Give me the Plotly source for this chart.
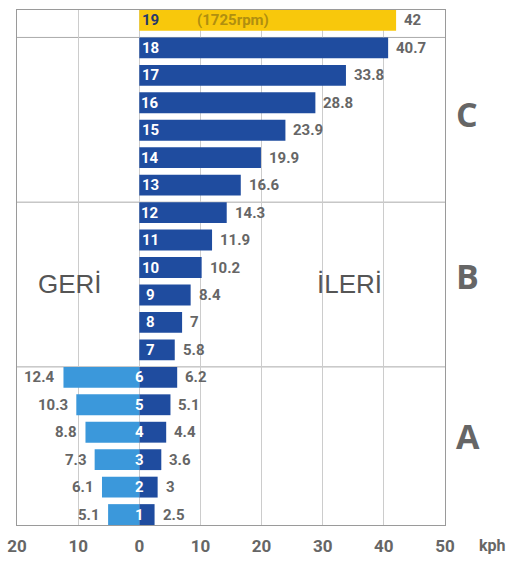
import plotly.graph_objects as go

gears = list(range(1, 20))
forward = [2.5, 3, 3.6, 4.4, 5.1, 6.2, 5.8, 7, 8.4, 10.2, 11.9, 14.3, 16.6, 19.9, 23.9, 28.8, 33.8, 40.7, 42]
reverse_gears = [1, 2, 3, 4, 5, 6]
reverse = [5.1, 6.1, 7.3, 8.8, 10.3, 12.4]
group_labels = ["A", "B", "C"]
group_centers = [3.85, 9.7, 15.6]
group_tops = [6, 12, 18]
tick_vals = [-20, -10, 0, 10, 20, 30, 40, 50]
tick_text = ["20", "10", "0", "10", "20", "30", "40", "50"]

DARK = "#1f4c9f"
LIGHT = "#3b98db"
YELLOW = "#f8c80c"
GRAY = "#666666"
BW = 0.76
FONT = "Roboto"

fwd_colors = [YELLOW if g == 19 else DARK for g in gears]

fig = go.Figure()
fig.add_trace(go.Bar(y=gears, x=forward, orientation="h", width=BW,
                     marker=dict(color=fwd_colors, line=dict(width=0)), hoverinfo="skip"))
fig.add_trace(go.Bar(y=reverse_gears, x=[-v for v in reverse], orientation="h", width=BW,
                     marker=dict(color=LIGHT, line=dict(width=0)), hoverinfo="skip"))

ann = []
for g, v in zip(gears, forward):
    ann.append(dict(x=v, y=g, text=f"<b>{v:g}</b>", showarrow=False, xanchor="left", xshift=6,
                    font=dict(family=FONT, size=15, color=GRAY)))
    gx = 0 if g <= 6 else 1.8
    col = "#26386a" if g == 19 else "white"
    ann.append(dict(x=gx, y=g, text=f"<b>{g}</b>", showarrow=False, xanchor="center",
                    font=dict(family=FONT, size=15, color=col)))
ann.append(dict(x=15.3, y=19, text="<b>(1725rpm)</b>", showarrow=False, xanchor="center",
                font=dict(family=FONT, size=15, color="#b08f10")))
for g, v in zip(reverse_gears, reverse):
    ann.append(dict(x=-v, y=g, text=f"<b>{v:g}</b>", showarrow=False, xanchor="right", xshift=-6,
                    font=dict(family=FONT, size=15, color=GRAY)))
for lab, c in zip(group_labels, group_centers):
    ann.append(dict(x=1.02, xref="paper", y=c, text=f"<b>{lab}</b>", showarrow=False,
                    xanchor="left", font=dict(family="Open Sans", size=34, color=GRAY)))
ann.append(dict(x=-11.3, y=9.4, text="GERİ", showarrow=False, xanchor="center",
                font=dict(family="Liberation Sans", size=26, color="#555555")))
ann.append(dict(x=34.3, y=9.4, text="İLERİ", showarrow=False, xanchor="center",
                font=dict(family="Liberation Sans", size=26, color="#555555")))
ann.append(dict(x=1.11, xref="paper", y=-0.04, yref="paper", text="<b>kph</b>", showarrow=False,
                xanchor="center", yanchor="middle", font=dict(family=FONT, size=16, color=GRAY)))

shapes = []
for t in group_tops:
    shapes.append(dict(type="line", xref="paper", x0=0, x1=1, y0=t + BW / 2, y1=t + BW / 2,
                       line=dict(color="#aaaaaa", width=1), layer="below"))

fig.update_layout(
    width=513, height=562,
    margin=dict(l=17, r=68, t=10, b=37, autoexpand=False),
    barmode="overlay",
    showlegend=False,
    plot_bgcolor="white", paper_bgcolor="white",
    annotations=ann, shapes=shapes,
    xaxis=dict(range=[-20, 50], tickvals=tick_vals, ticktext=tick_text, automargin=False,
               showgrid=True, gridcolor="#cccccc", gridwidth=1, zeroline=False,
               showline=True, linecolor="#9a9a9a", linewidth=1, mirror=True,
               ticks="outside", ticklen=6, tickcolor="rgba(0,0,0,0)",
               tickfont=dict(family=FONT, size=17, color=GRAY, weight="bold")),
    yaxis=dict(range=[1 - BW / 2, 19 + BW / 2], showticklabels=False, showgrid=False, automargin=False,
               zeroline=False, showline=True, linecolor="#9a9a9a", linewidth=1, mirror=True),
)

fig.write_html("out.html", config={"displayModeBar": False},
               post_script="document.body.style.margin='0';document.body.style.overflow='hidden';")
